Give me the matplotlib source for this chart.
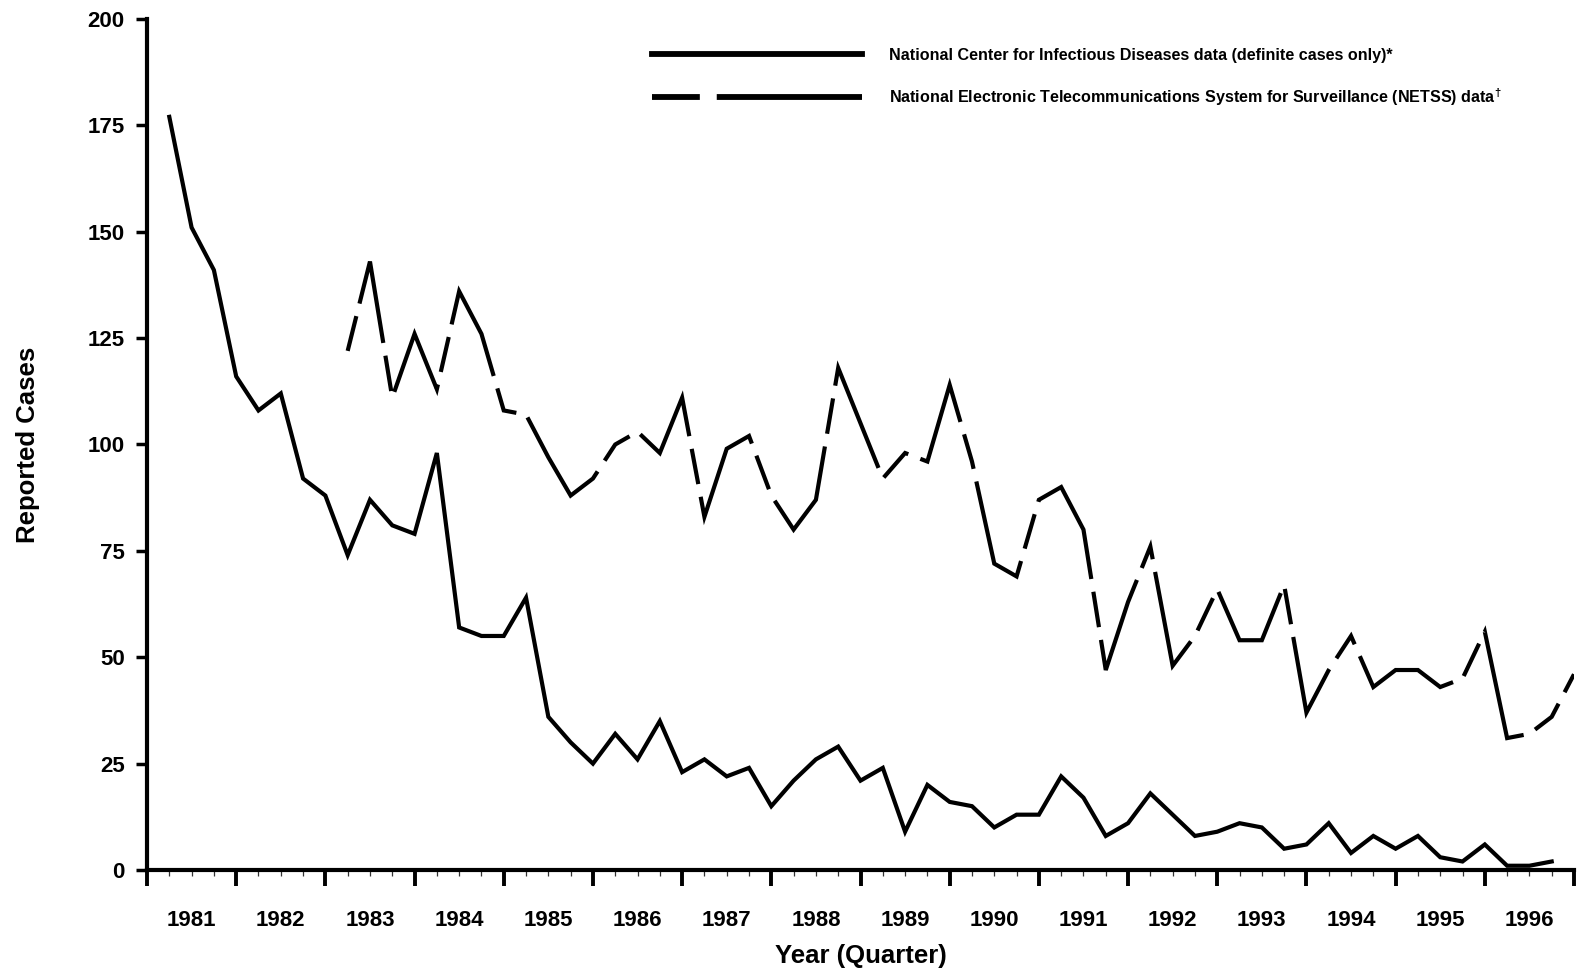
import numpy as np
import matplotlib
matplotlib.use("Agg")
import matplotlib.pyplot as plt
from matplotlib.lines import Line2D

# ---------------- data ----------------
years = list(range(1981, 1997))
# quarterly series, index 1 = 1981 Q1
ncid_start_quarter = 1
ncid_cases = [177, 151, 141, 116, 108, 112, 92, 88,
              74, 87, 81, 79, 98, 57, 55, 55,
              64, 36, 30, 25, 32, 26, 35, 23,
              26, 22, 24, 15, 21, 26, 29, 21,
              24, 9, 20, 16, 15, 10, 13, 13,
              22, 17, 8, 11, 18, 13, 8, 9,
              11, 10, 5, 6, 11, 4, 8, 5,
              8, 3, 2, 6, 1, 1, 2]
netss_start_quarter = 9
netss_cases = [122, 143, 111, 126, 113, 136, 126, 108,
               107, 97, 88, 92, 100, 103, 98, 111,
               83, 99, 102, 88, 80, 87, 118, 105,
               92, 98, 96, 114, 96, 72, 69, 87,
               90, 80, 47, 63, 76, 48, 55, 66,
               54, 54, 67, 37, 47, 55, 43, 47,
               47, 43, 45, 56, 31, 32, 36, 46]
labels = ["National Center for Infectious Diseases data (definite cases only)*",
          "National Electronic Telecommunications System for Surveillance (NETSS) data$^{\\dagger}$"]

ncid_x = np.arange(ncid_start_quarter, ncid_start_quarter + len(ncid_cases))
netss_x = np.arange(netss_start_quarter, netss_start_quarter + len(netss_cases))
n_quarters = 4 * len(years)

# ---------------- style ----------------
plt.rcParams['font.family'] = ['Liberation Sans', 'DejaVu Sans']
plt.rcParams['font.weight'] = 'bold'
plt.rcParams['mathtext.fontset'] = 'custom'
plt.rcParams['mathtext.rm'] = 'Liberation Sans:bold'
plt.rcParams['mathtext.bf'] = 'Liberation Sans:bold'
plt.rcParams['mathtext.default'] = 'rm'

fig = plt.figure(figsize=(15.89, 9.71), dpi=100)
ax = fig.add_axes([147 / 1589, 1 - 870 / 971, (1574 - 147) / 1589, (870 - 19) / 971])

lw = 3.0
ax.plot(ncid_x, ncid_cases, color='black', lw=lw, solid_joinstyle='miter')
ax.plot(netss_x, netss_cases, color='black', lw=lw,
        linestyle=(0, (8.6, 3.1, 30.2, 3.1)), dash_joinstyle='miter', dash_capstyle='butt')

ax.set_xlim(0, n_quarters)
ax.set_ylim(0, 200)

for s in ['top', 'right']:
    ax.spines[s].set_visible(False)
for s in ['left', 'bottom']:
    ax.spines[s].set_linewidth(3.0)

ax.set_yticks(np.arange(0, 201, 25))
ax.tick_params(axis='y', which='major', length=8, width=2.5, direction='out', pad=8,
               labelsize=16)
for t in ax.get_yticklabels():
    t.set_fontweight('bold')

# year boundaries (major) and quarters (minor)
ax.set_xticks(np.arange(0, n_quarters + 1, 4))
ax.set_xticks([q for q in range(n_quarters + 1) if q % 4], minor=True)
ax.tick_params(axis='x', which='major', length=11.5, width=2.8, direction='out', labelbottom=False)
ax.tick_params(axis='x', which='minor', length=4, width=0.9, direction='out', color='#333333')

sec = ax.secondary_xaxis('bottom')
sec.set_xticks(np.arange(2, n_quarters, 4))
sec.set_xticklabels([str(y) for y in years], fontsize=16, fontweight='bold')
sec.tick_params(axis='x', length=0, pad=29)
sec.spines['bottom'].set_visible(False)

ax.set_xlabel("Year (Quarter)", fontsize=18.5, fontweight='bold')
ax.xaxis.set_label_coords(0.5, -0.087)
ax.set_ylabel("Reported Cases", fontsize=18.5, fontweight='bold')
ax.yaxis.set_label_coords(-0.075, 0.5)

fs_leg = 11.6
handles = [Line2D([], [], color='black', lw=4.2),
           Line2D([], [], color='black', lw=4.2, linestyle=(0, (8.2, 2.9, 60, 2.9)))]
leg = ax.legend(handles, labels, loc='upper left', bbox_to_anchor=(652 / 1589, 1 - 48 / 971),
                bbox_transform=fig.transFigure, frameon=False, borderaxespad=0, borderpad=0,
                handlelength=13.05, handletextpad=1.68, labelspacing=1.45,
                prop={'family': ['Liberation Sans'], 'weight': 'bold', 'size': fs_leg})

fig.savefig("out.png", dpi=100)
